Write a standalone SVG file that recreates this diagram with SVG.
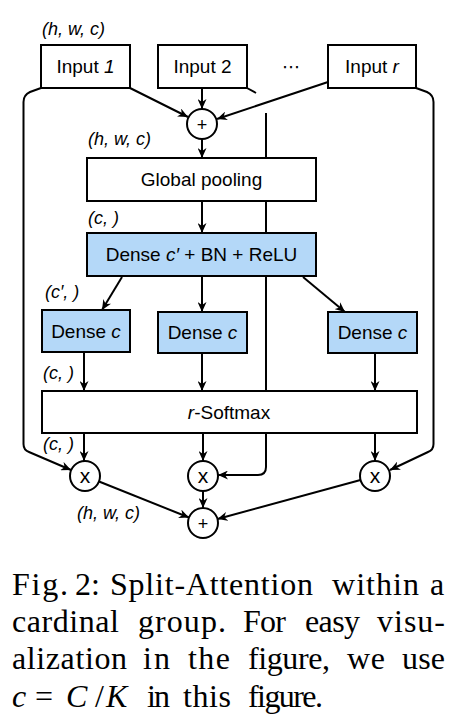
<svg xmlns="http://www.w3.org/2000/svg" width="470" height="728" viewBox="0 0 470 728">
<style>
.box{fill:#fff;stroke:#000;stroke-width:2}
.blue{fill:#b4d8f8;stroke:#000;stroke-width:2}
.op{fill:#fff;stroke:#000;stroke-width:2}
.t{font-family:"Liberation Sans",Arial,sans-serif;font-size:19px;fill:#000;text-anchor:middle}
.lbl{font-family:"Liberation Sans",Arial,sans-serif;font-size:18px;font-style:italic;fill:#000}
.cap{font-family:"Liberation Serif","Times New Roman",serif;font-size:32px;fill:#000}
.con{fill:none;stroke:#000;stroke-width:2}
.ar{marker-end:url(#ah)}
</style>
<defs>
<marker id="ah" markerUnits="userSpaceOnUse" markerWidth="11" markerHeight="9" refX="10" refY="4.5" orient="auto" viewBox="0 0 11 9">
<path d="M0,0 L10,4.5 L0,9 L3,4.5 z" fill="#000"/>
</marker>
</defs>
<rect width="470" height="728" fill="#fff"/>

<g id="connectors">
<path class="con ar" d="M130,88 L188,117"/>
<path class="con ar" d="M202,88 L202,109"/>
<path class="con ar" d="M328,82 L217,119"/>
<path class="con ar" d="M202,139 L202,158"/>
<path class="con ar" d="M202,201 L202,233"/>
<path class="con ar" d="M122,277 L102,310"/>
<path class="con ar" d="M202,277 L202,312"/>
<path class="con ar" d="M303,277 L345,312"/>
<path class="con ar" d="M84,352 L84,391"/>
<path class="con ar" d="M202,353 L202,391"/>
<path class="con ar" d="M375,353 L375,391"/>
<path class="con ar" d="M84,433 L84,461"/>
<path class="con ar" d="M203,433 L203,461"/>
<path class="con ar" d="M375,433 L375,461"/>
<path class="con ar" d="M41,88 L30,92 Q23.5,95 23.5,102 L23.5,444 Q23.5,450 29,452 L71,470"/>
<path class="con ar" d="M416,88 L427,92 Q433.5,95 433.5,102 L433.5,444 Q433.5,450 428,452 L390,470"/>
<path class="con" d="M247,88 L256,93"/>
<path class="con ar" d="M266,113 L266,467 Q266,475 258,475 L218,475"/>
<path class="con ar" d="M99,481.5 L189,517.5"/>
<path class="con ar" d="M203,491 L203,508"/>
<path class="con ar" d="M360.5,480 L217.5,519"/>
</g>

<g id="label-hwc-top"><text class="lbl" x="42" y="35">(h, w, c)</text></g>
<g id="label-hwc-2"><text class="lbl" x="88" y="145">(h, w, c)</text></g>
<g id="label-c-1"><text class="lbl" x="88" y="224">(c, )</text></g>
<g id="label-cp"><text class="lbl" x="45" y="298">(c′, )</text></g>
<g id="label-c-2"><text class="lbl" x="43" y="379">(c, )</text></g>
<g id="label-c-3"><text class="lbl" x="43" y="450">(c, )</text></g>
<g id="label-hwc-bottom"><text class="lbl" x="77" y="519">(h, w, c)</text></g>

<g id="input1"><rect class="box" x="41" y="45" width="89" height="43"/><text class="t" x="85.5" y="73">Input <tspan font-style="italic">1</tspan></text></g>
<g id="input2"><rect class="box" x="158" y="45" width="89" height="43"/><text class="t" x="202.5" y="73">Input 2</text></g>
<g id="dots"><text class="t" x="291" y="73" style="font-family:'DejaVu Sans',sans-serif;font-size:18px">⋯</text></g>
<g id="inputr"><rect class="box" x="328" y="45" width="88" height="43"/><text class="t" x="372" y="73">Input <tspan font-style="italic">r</tspan></text></g>

<g id="plus-top"><circle class="op" cx="202" cy="124" r="15"/><text class="t" x="202" y="130.5" style="font-size:18px">+</text></g>

<g id="global-pooling"><rect class="box" x="87" y="158" width="229" height="43"/><text class="t" x="201.5" y="186">Global pooling</text></g>
<g id="dense-cp"><rect class="blue" x="87" y="233" width="229" height="43"/><text class="t" x="201.5" y="261">Dense <tspan font-style="italic">c′</tspan> + BN + ReLU</text></g>

<g id="dense-c-1"><rect class="blue" x="42" y="310" width="88" height="42"/><text class="t" x="86" y="338">Dense <tspan font-style="italic">c</tspan></text></g>
<g id="dense-c-2"><rect class="blue" x="158" y="312" width="89" height="41"/><text class="t" x="202.5" y="339">Dense <tspan font-style="italic">c</tspan></text></g>
<g id="dense-c-r"><rect class="blue" x="328" y="312" width="89" height="41"/><text class="t" x="372.5" y="339">Dense <tspan font-style="italic">c</tspan></text></g>

<g id="softmax"><rect class="box" x="42" y="391" width="375" height="42"/><text class="t" x="229" y="419"><tspan font-style="italic">r</tspan>-Softmax</text></g>

<g id="mul-1"><circle class="op" cx="85" cy="476" r="15"/><text class="t" x="85" y="483" style="font-size:21px">x</text></g>
<g id="mul-2"><circle class="op" cx="203" cy="476" r="15"/><text class="t" x="203" y="483" style="font-size:21px">x</text></g>
<g id="mul-r"><circle class="op" cx="375" cy="476" r="15"/><text class="t" x="375" y="483" style="font-size:21px">x</text></g>

<g id="plus-bottom"><circle class="op" cx="203" cy="523" r="15"/><text class="t" x="203" y="529.5" style="font-size:18px">+</text></g>

<g id="caption">
<text class="cap" y="595"><tspan x="12" textLength="56" lengthAdjust="spacing">Fig.</tspan><tspan x="75" textLength="25" lengthAdjust="spacing">2:</tspan><tspan x="110" textLength="203" lengthAdjust="spacing">Split-Attention</tspan><tspan x="332" textLength="87" lengthAdjust="spacing">within</tspan><tspan x="430">a</tspan></text>
<text class="cap" y="632"><tspan x="12" textLength="107" lengthAdjust="spacing">cardinal</tspan><tspan x="138" textLength="88" lengthAdjust="spacing">group.</tspan><tspan x="243" textLength="43" lengthAdjust="spacing">For</tspan><tspan x="305" textLength="55" lengthAdjust="spacing">easy</tspan><tspan x="377" textLength="68" lengthAdjust="spacing">visu-</tspan></text>
<text class="cap" y="669"><tspan x="12" textLength="115" lengthAdjust="spacing">alization</tspan><tspan x="143" textLength="27" lengthAdjust="spacing">in</tspan><tspan x="188" textLength="42" lengthAdjust="spacing">the</tspan><tspan x="248" textLength="82" lengthAdjust="spacing">figure,</tspan><tspan x="347" textLength="38" lengthAdjust="spacing">we</tspan><tspan x="402" textLength="43" lengthAdjust="spacing">use</tspan></text>
<text class="cap" y="707"><tspan x="12" font-style="italic">c</tspan><tspan x="35">=</tspan><tspan x="66" font-style="italic">C</tspan><tspan x="95">/</tspan><tspan x="106" font-style="italic">K</tspan><tspan x="147" textLength="23" lengthAdjust="spacing">in</tspan><tspan x="183" textLength="48" lengthAdjust="spacing">this</tspan><tspan x="248" textLength="75" lengthAdjust="spacing">figure.</tspan></text>
</g>
</svg>
